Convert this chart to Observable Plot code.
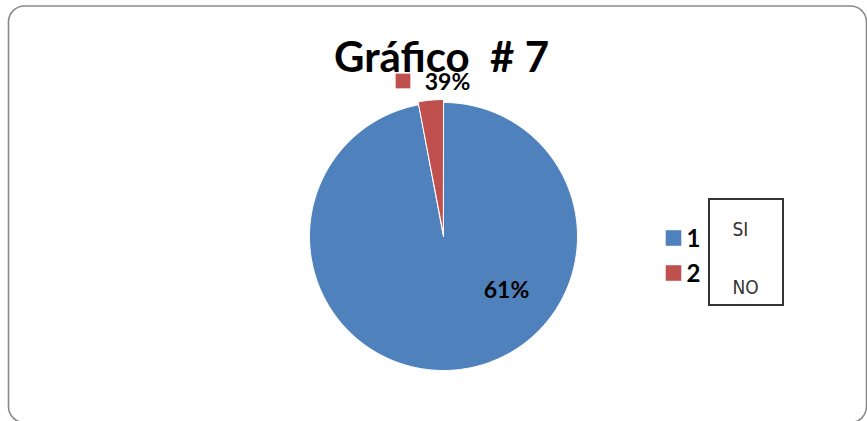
<!DOCTYPE html>
<html><head><meta charset="utf-8">
<script src="https://cdn.jsdelivr.net/npm/d3@7"></script>
<script src="https://cdn.jsdelivr.net/npm/@observablehq/plot@0.6"></script>
<style>
  html,body{margin:0;padding:0;background:#fff}
  #chart svg{display:block}
</style>
</head><body><div id="chart"></div>
<script>
// ---- data ----
const categories = ["1", "2"];
const answers = ["SI", "NO"];
const shares = [97, 3];            // slice sizes as drawn (percent of the pie)
const labels = ["61%", "39%"];     // slice labels as printed
const colors = ["#4F81BD", "#C0504D"];
const title = "Gráfico  # 7";

// ---- layout (pixels) ----
const W = 867, H = 421;
const CX = 443, CY = 236, R = 134;
const px = v => (v - CX) / R;   // pixel -> data units
const py = v => (CY - v) / R;

// pie geometry from the data
const arcs = d3.pie().sort(null).value(d => d)(shares);
const points = [];
arcs.forEach((a, i) => {
  const mid = (a.startAngle + a.endAngle) / 2;
  const ex = i === 1 ? 0.022 : 0;               // red slice slightly pulled out
  const ox = ex * Math.sin(mid), oy = ex * Math.cos(mid);
  points.push({cat: categories[i], x: ox, y: oy});
  const n = Math.max(8, Math.ceil((a.endAngle - a.startAngle) * 60));
  for (let k = 0; k <= n; k++) {
    const t = a.startAngle + (a.endAngle - a.startAngle) * k / n;
    points.push({cat: categories[i], x: ox + Math.sin(t), y: oy + Math.cos(t)});
  }
});

const font = "Lato, 'Open Sans', sans-serif";

const chart = Plot.plot({
  width: W, height: H,
  margin: 0,
  x: {domain: [px(0), px(W)], axis: null},
  y: {domain: [py(H), py(0)], axis: null},
  color: {domain: categories, range: colors},
  style: {fontFamily: font, background: "#fff"},
  marks: [
    Plot.frame({rx: 16, stroke: "#8a8a8a", strokeWidth: 1.6,
      insetLeft: 8, insetTop: 5.5, insetRight: 1, insetBottom: -1}),
    Plot.line(points, {x: "x", y: "y", z: "cat", fill: "cat",
      stroke: "#fff", strokeWidth: 1, curve: "linear-closed"}),
    // title
    Plot.text([title], {frameAnchor: "top-left", dx: 441, dy: 42,
      textAnchor: "middle", lineAnchor: "top", fontSize: 42,
      fontWeight: "bold", fill: "#000", fontFamily: font}),
    // slice labels
    Plot.text([labels[0]], {x: px(506), y: py(290), textAnchor: "middle",
      lineAnchor: "middle", fontSize: 23, fontWeight: "bold", fill: "#000"}),
    Plot.text([labels[1]], {x: px(447), y: py(82), textAnchor: "middle",
      lineAnchor: "middle", fontSize: 23, fontWeight: "bold", fill: "#000"}),
    Plot.dot([categories[1]], {x: px(402.5), y: py(80.5), symbol: "square",
      r: 8.3, fill: d => d, stroke: null}),
    // legend
    Plot.dot(categories, {x: px(673), y: (d, i) => py(237.5 + 35 * i),
      symbol: "square", r: 8.8, fill: d => d, stroke: null}),
    Plot.text(categories, {x: px(686), y: (d, i) => py(239 + 35 * i),
      textAnchor: "start", lineAnchor: "middle", fontSize: 24,
      fontWeight: "bold", fill: "#000"}),
    // SI / NO box
    Plot.rect([0], {x1: px(709), x2: px(783), y1: py(305), y2: py(199),
      fill: "none", stroke: "#333", strokeWidth: 2}),
    Plot.text(answers, {x: px(732), y: (d, i) => py(229 + 58 * i),
      textAnchor: "start", lineAnchor: "middle", fontSize: 19,
      fill: "#333", fontFamily: "'DejaVu Sans Condensed', 'Noto Sans', sans-serif"})
  ]
});
document.getElementById("chart").appendChild(chart);
</script>
</body></html>
